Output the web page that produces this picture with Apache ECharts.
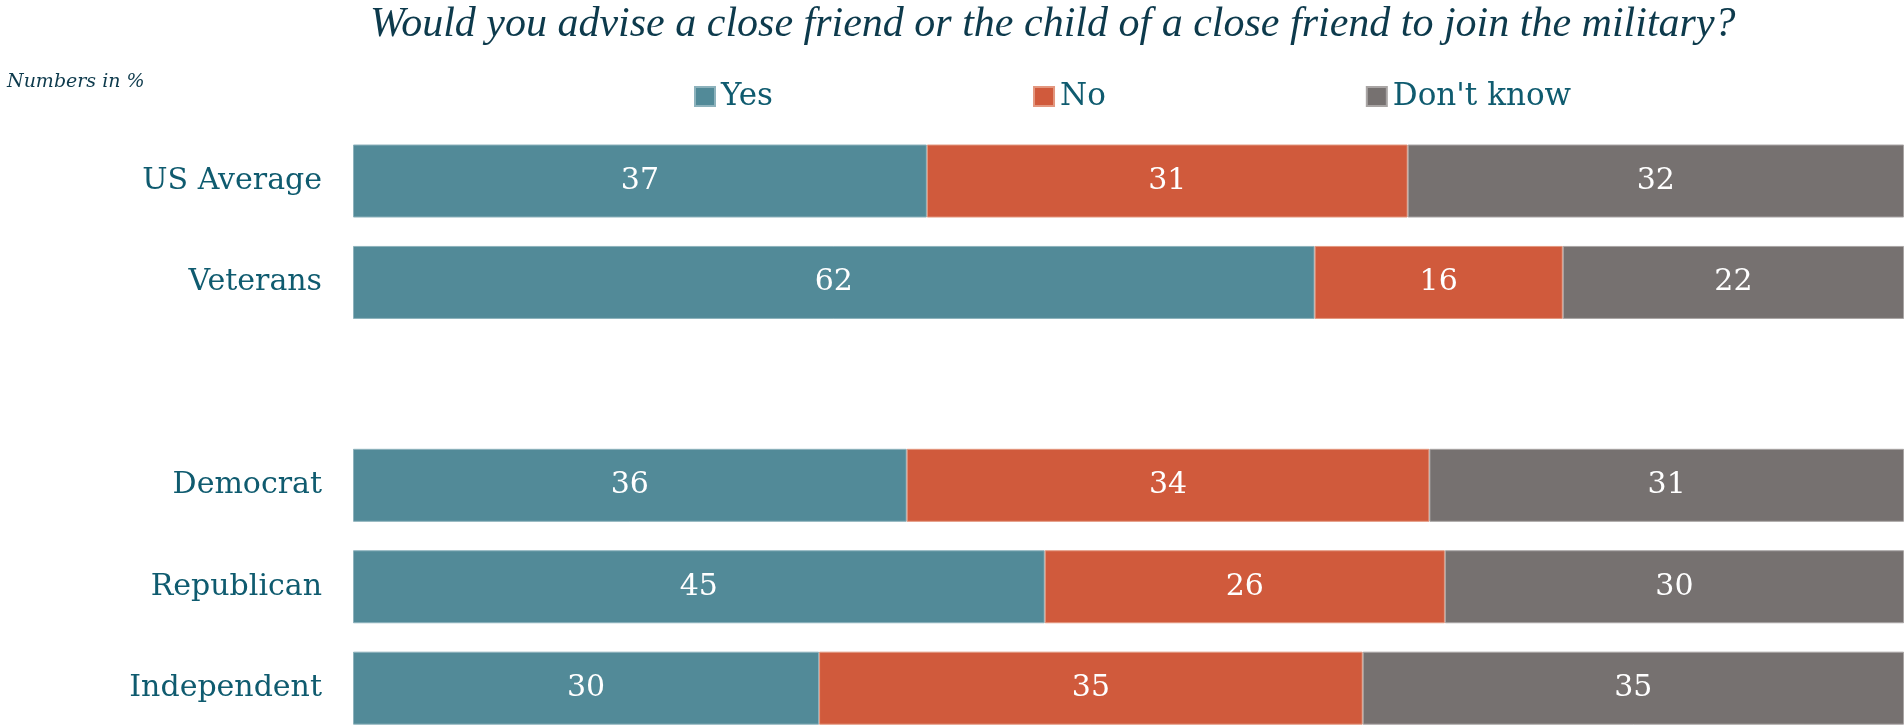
<!DOCTYPE html>
<html>
<head>
<meta charset="utf-8">
<script src="https://cdn.jsdelivr.net/npm/echarts@6/dist/echarts.min.js"></script>
<style>
html,body{margin:0;padding:0;background:#fff;overflow:hidden;}
#chart{width:1904px;height:742px;}
</style>
</head>
<body>
<div id="chart"></div>
<script>
// Data (percent)
const categories = ['US Average', 'Veterans', '', 'Democrat', 'Republican', 'Independent'];
const seriesNames = ['Yes', 'No', "Don't know"];
const yesValues = [37, 62, '-', 35.7, 44.6, 30.05];
const noValues = [31, 16, '-', 33.7, 25.8, 35.05];
const dkValues = [32, 22, '-', 30.6, 29.6, 34.9];
const colors = ['#528A98', '#D05A3C', '#767170'];
const borderColors = ['#8DB2BC', '#E3977F', '#A9A5A4'];

const serif = '"DejaVu Serif", "Liberation Serif", serif';
const chart = echarts.init(document.getElementById('chart'));

function makeSeries(name, values, i) {
  return {
    name: name,
    type: 'bar',
    stack: 'total',
    barWidth: 73,
    data: values,
    itemStyle: { color: colors[i], borderColor: borderColors[i], borderWidth: 1 },
    label: {
      show: true,
      position: 'inside',
      color: '#ffffff',
      fontFamily: serif,
      fontSize: 30,
      padding: [4, 0, 0, 0],
      formatter: p => Math.round(p.value)
    },
    emphasis: { disabled: true }
  };
}

chart.setOption({
  animation: false,
  backgroundColor: '#ffffff',
  title: [
    {
      text: 'Would you advise a close friend or the child of a close friend to join the military?',
      left: 365, top: -1,
      textStyle: { fontFamily: '"Liberation Serif", serif', fontStyle: 'italic', fontWeight: 'normal', fontSize: 42, color: '#0D3A4C' }
    },
    {
      text: 'Numbers in %',
      left: 2, top: 68,
      textStyle: { fontFamily: serif, fontStyle: 'italic', fontWeight: 'normal', fontSize: 19, color: '#0D3A4C' }
    }
  ],
  legend: {
    data: seriesNames,
    left: 689, top: 76,
    icon: 'rect',
    itemWidth: 20, itemHeight: 19,
    itemGap: 260,
    textStyle: { fontFamily: serif, fontSize: 31, color: '#0F5B6F', padding: [0, 0, 0, 1] }
  },
  grid: { left: 353, right: 0, top: 130.3, height: 608.6, containLabel: false },
  xAxis: { type: 'value', min: 0, max: 100, show: false },
  yAxis: {
    type: 'category',
    inverse: true,
    data: categories,
    axisLine: { show: false },
    axisTick: { show: false },
    splitLine: { show: false },
    axisLabel: { margin: 31, fontFamily: serif, fontSize: 30, color: '#0F5B6F' }
  },
  series: [
    makeSeries(seriesNames[0], yesValues, 0),
    makeSeries(seriesNames[1], noValues, 1),
    makeSeries(seriesNames[2], dkValues, 2)
  ]
});
</script>
</body>
</html>
